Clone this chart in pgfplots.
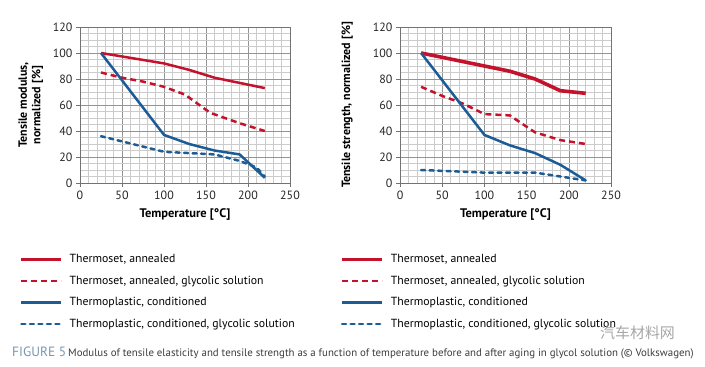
\documentclass[border=0pt]{standalone}
\usepackage{pgfplots}
\pgfplotsset{compat=1.18}
\usepackage{fontspec}
\setmainfont{PT Sans}
\newfontfamily\cjk{Noto Sans CJK SC}
\definecolor{cred}{RGB}{196,18,44}
\definecolor{cblue}{RGB}{28,92,150}
\definecolor{capblue}{RGB}{120,150,175}
\definecolor{capgray}{RGB}{60,60,60}

\pgfplotstableread{
x y
25 100
100 92
130 87
160 81
190 77
220 73
}\LTsa
\pgfplotstableread{
x y
25 85
50 81
75 78
100 74
125 68
155 54
190 46
220 40
}\LTsg
\pgfplotstableread{
x y
25 100
100 37
130 30
160 25
190 22
220 4
}\LTpc
\pgfplotstableread{
x y
25 36
100 24
160 22
190 17
210 12
220 5
}\LTpg

\pgfplotstableread{
x y
25 100
100 90
130 86
160 80
190 71
220 69
}\RTsa
\pgfplotstableread{
x y
25 74
50 67
75 61
100 53
130 52
160 39
190 33
220 30
}\RTsg
\pgfplotstableread{
x y
25 100
100 37
130 29
160 23
190 14
220 2
}\RTpc
\pgfplotstableread{
x y
25 10
100 8
160 8
190 5
220 2
}\RTpg

\pgfplotsset{
  mychart/.style={
    scale only axis,
    width=210bp, height=156bp,
    xmin=0, xmax=250, ymin=0, ymax=120,
    xtick={0,50,...,250}, ytick={0,20,...,120},
    minor x tick num=4, minor y tick num=3,
    grid=both,
    major grid style={draw=black!42, line width=0.6pt},
    minor grid style={draw=black!20, line width=0.45pt},
    axis line style={draw=black!55, line width=0.6pt},
    tick style={draw=black!55, line width=0.6pt},
    minor tick length=0pt,
    major tick length=4bp,
    tick align=outside,
    xtick pos=bottom, ytick pos=left,
    tick label style={font=\fontsize{12}{13}\selectfont, text=black!85},
    /pgf/number format/assume math mode=true,
    xlabel={Temperature [°C]},
    xlabel style={font=\bfseries\fontsize{12.5}{13}\selectfont, at={(axis description cs:0.5,-0.2)}, anchor=center},
    legend cell align=left,
    legend style={draw=none, fill=none, inner sep=0pt, row sep=10.5bp,
      font=\fontsize{11.8}{13}\selectfont,
      nodes={inner sep=0pt, text height=8.5pt, text depth=2.5pt},
      anchor=north west},
    legend image code/.code={\draw[##1] (0bp,0bp) -- (40bp,0bp);},
    /tikz/every odd column/.append style={column sep=7bp},
  },
  tsa/.style={cred, line width=2.5bp},
  tsg/.style={cred, line width=2.5bp, dash pattern=on 6bp off 4bp},
  tpc/.style={cblue, line width=2.5bp},
  tpg/.style={cblue, line width=2.5bp, line cap=round, dash pattern=on 4bp off 4.5bp},
}

\begin{document}
\begin{tikzpicture}[x=1bp,y=1bp]
\path[use as bounding box] (0,0) rectangle (705,366);

\begin{axis}[mychart, at={(80bp,183bp)}, anchor=south west,
  ylabel={Tensile modulus,\\normalized [\%]},
  ylabel style={font=\bfseries\fontsize{12}{13.5}\selectfont, align=center, at={(axis description cs:-0.235,0.5)}, anchor=center},
  legend style={at={(axis description cs:-0.286,-0.455)}},
]
\addplot[tsa] table {\LTsa};
\addlegendentry{Thermoset, annealed}
\addplot[tsg] table {\LTsg};
\addlegendentry{Thermoset, annealed, glycolic solution}
\addplot[tpc] table {\LTpc};
\addlegendentry{Thermoplastic, conditioned}
\addplot[tpg] table {\LTpg};
\addlegendentry{Thermoplastic, conditioned, glycolic solution}
\end{axis}

\begin{axis}[mychart, at={(400bp,183bp)}, anchor=south west, width=211bp,
  ylabel={Tensile strength, normalized [\%]},
  ylabel style={font=\bfseries\fontsize{12}{13}\selectfont, at={(axis description cs:-0.25,0.5)}, anchor=center},
  legend style={at={(axis description cs:-0.284,-0.455)}},
]
\addplot[tsa, line width=3.6bp] table {\RTsa};
\addlegendentry{Thermoset, annealed}
\addplot[tsg] table {\RTsg};
\addlegendentry{Thermoset, annealed, glycolic solution}
\addplot[tpc] table {\RTpc};
\addlegendentry{Thermoplastic, conditioned}
\addplot[tpg] table {\RTpg};
\addlegendentry{Thermoplastic, conditioned, glycolic solution}
\end{axis}

\node[anchor=base west, inner sep=0pt, text=capblue, font=\fontsize{13.5}{15}\selectfont] at (12,10) {FIGURE 5};
\node[anchor=base west, inner sep=0pt, text=capgray, font=\fontsize{10.9}{12}\selectfont] at (68,10) {Modulus of tensile elasticity and tensile strength as a function of temperature before and after aging in glycol solution (© Volkswagen)};
\node[anchor=base west, inner sep=0pt, text=black!35, font=\cjk\fontsize{15}{16}\selectfont] at (600,28) {汽车材料网};
\end{tikzpicture}
\end{document}
